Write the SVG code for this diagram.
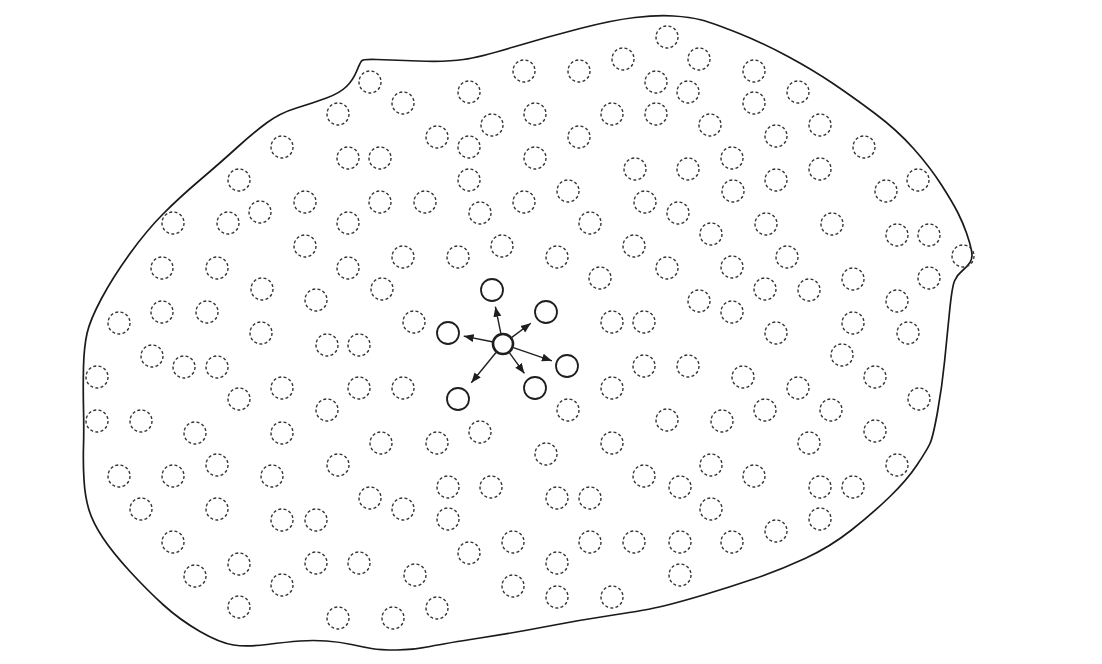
<svg xmlns="http://www.w3.org/2000/svg" width="1102" height="664" viewBox="0 0 1102 664">
<style>
.bg{fill:#fff}
.blob{fill:none;stroke:#1a1a1a;stroke-width:1.7;stroke-linejoin:round}
.p{fill:none;stroke:#333;stroke-width:1.4;stroke-dasharray:3 2.3}
.s{fill:#fff;stroke:#1e1e1e;stroke-width:1.8}
.c{fill:#fff;stroke:#1e1e1e;stroke-width:2.6}
.e{stroke:#1e1e1e;stroke-width:1.4;fill:none}
</style>
<defs>
<marker id="ah" markerUnits="userSpaceOnUse" markerWidth="11" markerHeight="9" refX="10" refY="4.5" orient="auto">
<path d="M0,0.5 L10,4.5 L0,8.5 z" fill="#1e1e1e"/>
</marker>
</defs>
<rect class="bg" x="0" y="0" width="1102" height="664"/>
<g id="boundary">
<path class="blob" d="M376.5,59.5 Q390,60 418.5,61 Q447,62 463.5,59.5 Q480,57 513.5,47 Q547,37 580,28.5 Q613,20 635,17.5 Q657,15 673.5,16 Q690,17 701.5,20 Q713,23 738,33 Q763,43 788,56.5 Q813,70 833,83.5 Q853,97 875,113.5 Q897,130 913.5,148.5 Q930,167 941.5,185 Q953,203 958,213 Q963,223 966.5,233 Q970,243 971.5,250.5 Q973,258 970,262.5 Q967,267 962,271 Q957,275 954.5,281 Q952,287 949.5,312 Q947,337 944.5,362 Q942,387 937.5,412 Q933,437 930,443.5 Q927,450 917,465 Q907,480 890,496.5 Q873,513 851.5,530 Q830,547 805,558.5 Q780,570 755,578.5 Q730,587 705,594.5 Q680,602 663.5,606 Q647,610 613.5,615 Q580,620 546.5,626.5 Q513,633 480,638 Q447,643 430,646.5 Q413,650 396.5,650 Q380,650 371.5,648.5 Q363,647 351.5,644.5 Q340,642 326.5,641 Q313,640 300,641 Q287,642 267,644.5 Q247,647 233.5,645 Q220,643 200,631.5 Q180,620 163.5,605 Q147,590 130,571.5 Q113,553 103,538 Q93,523 89,510 Q85,497 84,480 Q83,463 83.5,446.5 Q84,430 83.5,408.5 Q83,387 83.5,367 Q84,347 87,333.5 Q90,320 101.5,298.5 Q113,277 130,253.5 Q147,230 163.5,213.5 Q180,197 200,180 Q220,163 236.5,148 Q253,133 266.5,123 Q280,113 296.5,108 Q313,103 326.5,98 Q340,93 346.5,86.5 Q353,80 356.5,71.5 Q360,63 361.5,61 Q363,59 376.5,59.5 Z"/>
</g>
<g id="particles">
<circle class="p" cx="667" cy="37" r="11"/>
<circle class="p" cx="699" cy="59" r="11"/>
<circle class="p" cx="524" cy="71" r="11"/>
<circle class="p" cx="579" cy="71" r="11"/>
<circle class="p" cx="623" cy="59" r="11"/>
<circle class="p" cx="754" cy="71" r="11"/>
<circle class="p" cx="370" cy="82" r="11"/>
<circle class="p" cx="656" cy="82" r="11"/>
<circle class="p" cx="469" cy="92" r="11"/>
<circle class="p" cx="688" cy="92" r="11"/>
<circle class="p" cx="798" cy="92" r="11"/>
<circle class="p" cx="403" cy="103" r="11"/>
<circle class="p" cx="754" cy="103" r="11"/>
<circle class="p" cx="338" cy="114" r="11"/>
<circle class="p" cx="535" cy="114" r="11"/>
<circle class="p" cx="612" cy="114" r="11"/>
<circle class="p" cx="656" cy="114" r="11"/>
<circle class="p" cx="492" cy="125" r="11"/>
<circle class="p" cx="710" cy="125" r="11"/>
<circle class="p" cx="820" cy="125" r="11"/>
<circle class="p" cx="437" cy="137" r="11"/>
<circle class="p" cx="579" cy="137" r="11"/>
<circle class="p" cx="776" cy="136" r="11"/>
<circle class="p" cx="282" cy="147" r="11"/>
<circle class="p" cx="469" cy="147" r="11"/>
<circle class="p" cx="864" cy="147" r="11"/>
<circle class="p" cx="348" cy="158" r="11"/>
<circle class="p" cx="380" cy="158" r="11"/>
<circle class="p" cx="535" cy="158" r="11"/>
<circle class="p" cx="732" cy="158" r="11"/>
<circle class="p" cx="635" cy="169" r="11"/>
<circle class="p" cx="688" cy="169" r="11"/>
<circle class="p" cx="820" cy="169" r="11"/>
<circle class="p" cx="239" cy="180" r="11"/>
<circle class="p" cx="469" cy="180" r="11"/>
<circle class="p" cx="776" cy="180" r="11"/>
<circle class="p" cx="918" cy="180" r="11"/>
<circle class="p" cx="568" cy="191" r="11"/>
<circle class="p" cx="733" cy="191" r="11"/>
<circle class="p" cx="886" cy="191" r="11"/>
<circle class="p" cx="305" cy="202" r="11"/>
<circle class="p" cx="380" cy="202" r="11"/>
<circle class="p" cx="425" cy="202" r="11"/>
<circle class="p" cx="524" cy="202" r="11"/>
<circle class="p" cx="645" cy="202" r="11"/>
<circle class="p" cx="260" cy="212" r="11"/>
<circle class="p" cx="480" cy="213" r="11"/>
<circle class="p" cx="678" cy="213" r="11"/>
<circle class="p" cx="173" cy="223" r="11"/>
<circle class="p" cx="228" cy="223" r="11"/>
<circle class="p" cx="348" cy="223" r="11"/>
<circle class="p" cx="590" cy="223" r="11"/>
<circle class="p" cx="766" cy="224" r="11"/>
<circle class="p" cx="832" cy="224" r="11"/>
<circle class="p" cx="711" cy="234" r="11"/>
<circle class="p" cx="897" cy="235" r="11"/>
<circle class="p" cx="929" cy="235" r="11"/>
<circle class="p" cx="305" cy="246" r="11"/>
<circle class="p" cx="502" cy="246" r="11"/>
<circle class="p" cx="634" cy="246" r="11"/>
<circle class="p" cx="403" cy="257" r="11"/>
<circle class="p" cx="458" cy="257" r="11"/>
<circle class="p" cx="557" cy="257" r="11"/>
<circle class="p" cx="787" cy="257" r="11"/>
<circle class="p" cx="963" cy="256" r="11"/>
<circle class="p" cx="162" cy="268" r="11"/>
<circle class="p" cx="217" cy="268" r="11"/>
<circle class="p" cx="348" cy="268" r="11"/>
<circle class="p" cx="667" cy="268" r="11"/>
<circle class="p" cx="732" cy="267" r="11"/>
<circle class="p" cx="600" cy="278" r="11"/>
<circle class="p" cx="853" cy="279" r="11"/>
<circle class="p" cx="929" cy="278" r="11"/>
<circle class="p" cx="262" cy="289" r="11"/>
<circle class="p" cx="382" cy="289" r="11"/>
<circle class="p" cx="765" cy="289" r="11"/>
<circle class="p" cx="809" cy="290" r="11"/>
<circle class="p" cx="316" cy="300" r="11"/>
<circle class="p" cx="699" cy="301" r="11"/>
<circle class="p" cx="897" cy="301" r="11"/>
<circle class="p" cx="162" cy="312" r="11"/>
<circle class="p" cx="207" cy="312" r="11"/>
<circle class="p" cx="732" cy="312" r="11"/>
<circle class="p" cx="119" cy="323" r="11"/>
<circle class="p" cx="414" cy="322" r="11"/>
<circle class="p" cx="612" cy="322" r="11"/>
<circle class="p" cx="644" cy="322" r="11"/>
<circle class="p" cx="853" cy="323" r="11"/>
<circle class="p" cx="261" cy="333" r="11"/>
<circle class="p" cx="776" cy="333" r="11"/>
<circle class="p" cx="908" cy="333" r="11"/>
<circle class="p" cx="327" cy="345" r="11"/>
<circle class="p" cx="359" cy="345" r="11"/>
<circle class="p" cx="152" cy="356" r="11"/>
<circle class="p" cx="842" cy="355" r="11"/>
<circle class="p" cx="184" cy="367" r="11"/>
<circle class="p" cx="217" cy="367" r="11"/>
<circle class="p" cx="644" cy="366" r="11"/>
<circle class="p" cx="688" cy="366" r="11"/>
<circle class="p" cx="97" cy="377" r="11"/>
<circle class="p" cx="743" cy="377" r="11"/>
<circle class="p" cx="875" cy="377" r="11"/>
<circle class="p" cx="282" cy="388" r="11"/>
<circle class="p" cx="359" cy="388" r="11"/>
<circle class="p" cx="403" cy="388" r="11"/>
<circle class="p" cx="612" cy="388" r="11"/>
<circle class="p" cx="798" cy="388" r="11"/>
<circle class="p" cx="239" cy="399" r="11"/>
<circle class="p" cx="919" cy="399" r="11"/>
<circle class="p" cx="327" cy="410" r="11"/>
<circle class="p" cx="568" cy="410" r="11"/>
<circle class="p" cx="765" cy="410" r="11"/>
<circle class="p" cx="831" cy="410" r="11"/>
<circle class="p" cx="97" cy="421" r="11"/>
<circle class="p" cx="141" cy="421" r="11"/>
<circle class="p" cx="667" cy="420" r="11"/>
<circle class="p" cx="722" cy="421" r="11"/>
<circle class="p" cx="195" cy="433" r="11"/>
<circle class="p" cx="282" cy="433" r="11"/>
<circle class="p" cx="480" cy="432" r="11"/>
<circle class="p" cx="875" cy="431" r="11"/>
<circle class="p" cx="381" cy="443" r="11"/>
<circle class="p" cx="437" cy="443" r="11"/>
<circle class="p" cx="612" cy="443" r="11"/>
<circle class="p" cx="809" cy="443" r="11"/>
<circle class="p" cx="546" cy="454" r="11"/>
<circle class="p" cx="119" cy="476" r="11"/>
<circle class="p" cx="173" cy="476" r="11"/>
<circle class="p" cx="217" cy="465" r="11"/>
<circle class="p" cx="272" cy="476" r="11"/>
<circle class="p" cx="338" cy="465" r="11"/>
<circle class="p" cx="644" cy="476" r="11"/>
<circle class="p" cx="711" cy="465" r="11"/>
<circle class="p" cx="754" cy="476" r="11"/>
<circle class="p" cx="897" cy="465" r="11"/>
<circle class="p" cx="448" cy="487" r="11"/>
<circle class="p" cx="491" cy="487" r="11"/>
<circle class="p" cx="680" cy="487" r="11"/>
<circle class="p" cx="820" cy="487" r="11"/>
<circle class="p" cx="853" cy="487" r="11"/>
<circle class="p" cx="370" cy="498" r="11"/>
<circle class="p" cx="557" cy="498" r="11"/>
<circle class="p" cx="590" cy="498" r="11"/>
<circle class="p" cx="141" cy="509" r="11"/>
<circle class="p" cx="217" cy="509" r="11"/>
<circle class="p" cx="403" cy="509" r="11"/>
<circle class="p" cx="711" cy="509" r="11"/>
<circle class="p" cx="282" cy="520" r="11"/>
<circle class="p" cx="316" cy="520" r="11"/>
<circle class="p" cx="448" cy="519" r="11"/>
<circle class="p" cx="820" cy="519" r="11"/>
<circle class="p" cx="776" cy="531" r="11"/>
<circle class="p" cx="173" cy="542" r="11"/>
<circle class="p" cx="513" cy="542" r="11"/>
<circle class="p" cx="590" cy="542" r="11"/>
<circle class="p" cx="634" cy="542" r="11"/>
<circle class="p" cx="680" cy="542" r="11"/>
<circle class="p" cx="732" cy="542" r="11"/>
<circle class="p" cx="469" cy="553" r="11"/>
<circle class="p" cx="239" cy="564" r="11"/>
<circle class="p" cx="316" cy="563" r="11"/>
<circle class="p" cx="359" cy="563" r="11"/>
<circle class="p" cx="557" cy="563" r="11"/>
<circle class="p" cx="195" cy="576" r="11"/>
<circle class="p" cx="415" cy="575" r="11"/>
<circle class="p" cx="680" cy="575" r="11"/>
<circle class="p" cx="282" cy="585" r="11"/>
<circle class="p" cx="513" cy="586" r="11"/>
<circle class="p" cx="557" cy="597" r="11"/>
<circle class="p" cx="612" cy="597" r="11"/>
<circle class="p" cx="239" cy="607" r="11"/>
<circle class="p" cx="437" cy="608" r="11"/>
<circle class="p" cx="338" cy="618" r="11"/>
<circle class="p" cx="393" cy="618" r="11"/>
</g>
<g id="connectors">
<line class="e" x1="500.8" y1="333.2" x2="495.4" y2="306.7" marker-end="url(#ah)"/>
<line class="e" x1="511.8" y1="337.4" x2="530.8" y2="323.3" marker-end="url(#ah)"/>
<line class="e" x1="492.2" y1="341.8" x2="463.7" y2="336.1" marker-end="url(#ah)"/>
<line class="e" x1="513.4" y1="347.6" x2="551.9" y2="360.8" marker-end="url(#ah)"/>
<line class="e" x1="509.5" y1="352.9" x2="524.4" y2="373.4" marker-end="url(#ah)"/>
<line class="e" x1="496" y1="352.5" x2="471.3" y2="382.7" marker-end="url(#ah)"/>
</g>
<g id="center"><circle class="c" cx="503" cy="344" r="10"/></g>
<g id="n-top"><circle class="s" cx="492" cy="290" r="11"/></g>
<g id="n-upper-right"><circle class="s" cx="546" cy="312" r="11"/></g>
<g id="n-left"><circle class="s" cx="448" cy="333" r="11"/></g>
<g id="n-right"><circle class="s" cx="567" cy="366" r="11"/></g>
<g id="n-lower-right"><circle class="s" cx="535" cy="388" r="11"/></g>
<g id="n-lower-left"><circle class="s" cx="458" cy="399" r="11"/></g>
</svg>
